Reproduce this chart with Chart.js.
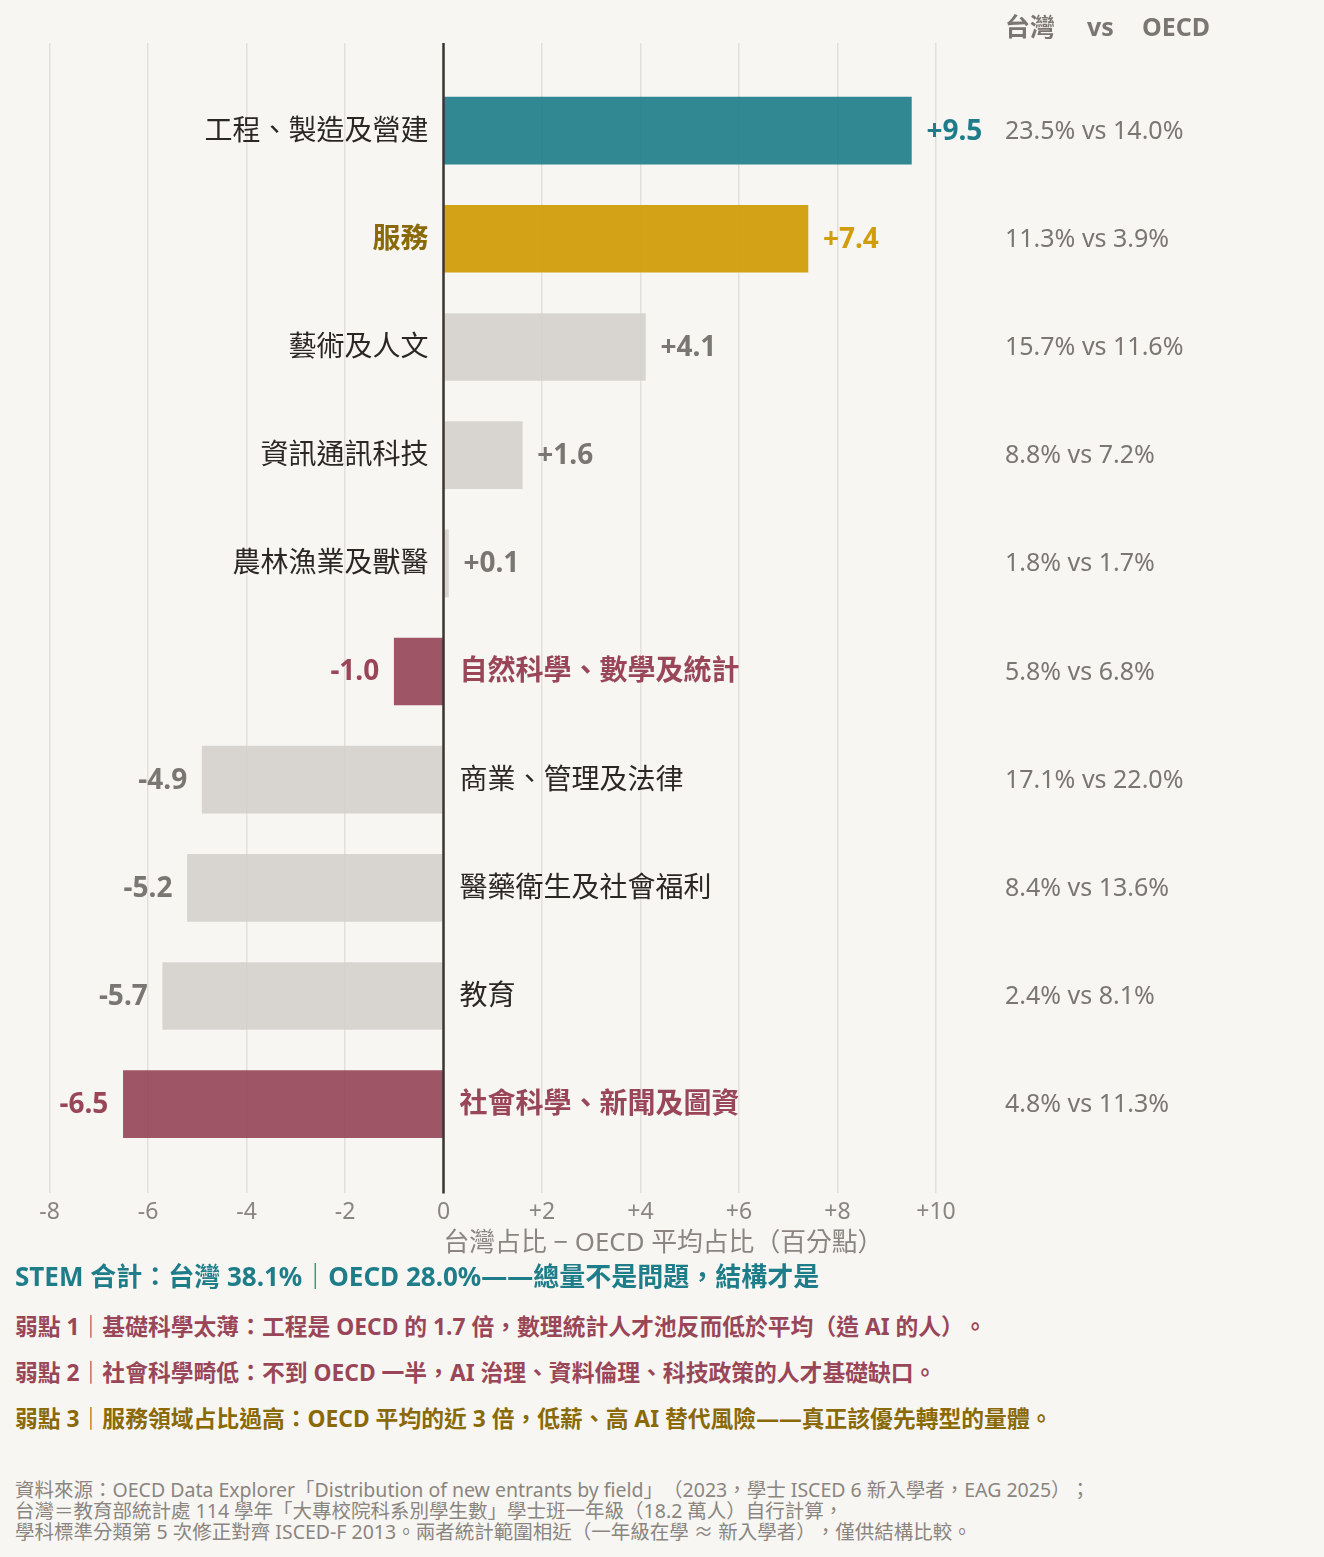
<!DOCTYPE html>
<html lang="zh-Hant">
<head>
<meta charset="utf-8">
<script src="https://cdn.jsdelivr.net/npm/chart.js@4.4.0/dist/chart.umd.min.js"></script>
<style>
  body { margin: 0; background: #f7f6f2; font-family: "Noto Sans", "Noto Sans CJK TC", sans-serif; text-spacing-trim: space-all; }
  #page { position: relative; width: 1324px; height: 1557px; overflow: hidden; }
  #chart-box { position: absolute; left: 0; top: 0; width: 1324px; height: 1260px; }
  .note { position: absolute; left: 15px; white-space: nowrap; font-weight: bold; }
  .stem { top: 1261px; font-size: 26px; line-height: 30px; color: #1f7d8a; }
  .weak { font-size: 22.8px; line-height: 26px; }
  .red { color: #9a4659; }
  .gold { color: #8a6a08; }
  .source { position: absolute; left: 15px; top: 1479px; font-size: 19.5px; line-height: 21px; color: #8a8580; white-space: nowrap; }
</style>
</head>
<body>
<div id="page">
  <div id="chart-box"><canvas id="gap-chart"></canvas></div>
  <div class="note stem">STEM 合計：台灣 38.1%｜OECD 28.0%——總量不是問題，結構才是</div>
  <div class="note weak red" style="top:1314px">弱點 1｜基礎科學太薄：工程是 OECD 的 1.7 倍，數理統計人才池反而低於平均（造 AI 的人）。</div>
  <div class="note weak red" style="top:1360px">弱點 2｜社會科學畸低：不到 OECD 一半，AI 治理、資料倫理、科技政策的人才基礎缺口。</div>
  <div class="note weak gold" style="top:1406px">弱點 3｜服務領域占比過高：OECD 平均的近 3 倍，低薪、高 AI 替代風險——真正該優先轉型的量體。</div>
  <div class="source">資料來源：OECD Data Explorer「Distribution of new entrants by field」（2023，學士 ISCED 6 新入學者，EAG 2025）；<br>台灣＝教育部統計處 114 學年「大專校院科系別學生數」學士班一年級（18.2 萬人）自行計算，<br>學科標準分類第 5 次修正對齊 ISCED-F 2013。兩者統計範圍相近（一年級在學 ≈ 新入學者），僅供結構比較。</div>
</div>
<script>
// fields, top to bottom
const fields = [
  "工程、製造及營建",
  "服務",
  "藝術及人文",
  "資訊通訊科技",
  "農林漁業及獸醫",
  "自然科學、數學及統計",
  "商業、管理及法律",
  "醫藥衛生及社會福利",
  "教育",
  "社會科學、新聞及圖資"
];
const gapValues = [9.5, 7.4, 4.1, 1.6, 0.1, -1.0, -4.9, -5.2, -5.7, -6.5];
const taiwanShare = [23.5, 11.3, 15.7, 8.8, 1.8, 5.8, 17.1, 8.4, 2.4, 4.8];
const oecdShare = [14.0, 3.9, 11.6, 7.2, 1.7, 6.8, 22.0, 13.6, 8.1, 11.3];
const xTicks = [-8, -6, -4, -2, 0, 2, 4, 6, 8, 10];
// which colour group each field belongs to
const groups = ["teal", "gold", "grey", "grey", "grey", "red", "grey", "grey", "grey", "red"];

const barColor = { teal: "rgba(31,125,138,0.92)", gold: "rgba(210,157,10,0.95)", red: "rgba(150,72,90,0.92)", grey: "rgba(210,207,203,0.85)" };
const valueColor = { teal: "#1f7d8a", gold: "#d29d0a", red: "#9a4659", grey: "#7a7671" };
const nameColor = { teal: "#2b2824", gold: "#8a6a08", red: "#9a4659", grey: "#2b2824" };
const FONT = '"Noto Sans", "Noto Sans CJK TC", sans-serif';

const labelPlugin = {
  id: "labels",
  afterDatasetsDraw(chart) {
    const ctx = chart.ctx;
    const x = chart.scales.x;
    const area = chart.chartArea;
    const zero = x.getPixelForValue(0);

    ctx.save();
    // zero line
    ctx.strokeStyle = "#3a3631";
    ctx.lineWidth = 2.5;
    ctx.beginPath();
    ctx.moveTo(zero, area.top);
    ctx.lineTo(zero, area.bottom);
    ctx.stroke();

    ctx.textBaseline = "middle";
    const bars = chart.getDatasetMeta(0).data;
    bars.forEach((bar, i) => {
      const v = gapValues[i];
      const g = groups[i];
      const y = bar.y + 1;
      const txt = (v >= 0 ? "+" : "") + v.toFixed(1);

      ctx.font = "bold 28px " + FONT;
      ctx.fillStyle = valueColor[g];
      if (v >= 0) { ctx.textAlign = "left"; ctx.fillText(txt, bar.x + 15, y); }
      else { ctx.textAlign = "right"; ctx.fillText(txt, bar.x - 15, y); }

      ctx.font = (g === "grey" || g === "teal" ? "normal" : "bold") + " 28px " + FONT;
      ctx.fillStyle = nameColor[g];
      if (v >= 0) { ctx.textAlign = "right"; ctx.fillText(fields[i], zero - 15, y); }
      else { ctx.textAlign = "left"; ctx.fillText(fields[i], zero + 16, y); }

      ctx.font = "25px " + FONT;
      ctx.fillStyle = "#7b7671";
      ctx.textAlign = "left";
      ctx.fillText(taiwanShare[i].toFixed(1) + "% vs " + oecdShare[i].toFixed(1) + "%", 1005, y);
    });

    // column header
    ctx.font = "bold 25px " + FONT;
    ctx.fillStyle = "#7b7671";
    ctx.fillText("台灣", 1005, 29);
    ctx.fillText("vs", 1087, 29);
    ctx.fillText("OECD", 1142, 29);

    // axis title
    ctx.font = "25.8px " + FONT;
    ctx.fillStyle = "#8a8580";
    ctx.fillText("台灣占比 − OECD 平均占比（百分點）", zero, 1244);
    ctx.restore();
  }
};

new Chart(document.getElementById("gap-chart"), {
  type: "bar",
  data: {
    datasets: [{
      data: gapValues.map((v, i) => ({ x: v, y: i })),
      backgroundColor: groups.map(g => barColor[g]),
      borderWidth: 0,
      barThickness: 67
    }]
  },
  options: {
    indexAxis: "y",
    responsive: true,
    maintainAspectRatio: false,
    animation: false,
    layout: { padding: { left: 49.5, right: 388, top: 43, bottom: 29 } },
    plugins: { legend: { display: false }, tooltip: { enabled: false } },
    scales: {
      x: {
        type: "linear",
        min: -8,
        max: 10,
        afterBuildTicks: s => { s.ticks = xTicks.map(v => ({ value: v })); },
        ticks: {
          padding: 5,
          color: "#8a8580",
          font: { size: 23, family: FONT },
          callback: v => (v > 0 ? "+" + v : String(v))
        },
        grid: { color: "#e3e0db", lineWidth: 1.5, drawTicks: false },
        border: { display: false }
      },
      y: {
        type: "linear",
        min: -0.81,
        max: 9.825,
        reverse: true,
        offset: false,
        display: false
      }
    }
  },
  plugins: [labelPlugin]
});
</script>
</body>
</html>
